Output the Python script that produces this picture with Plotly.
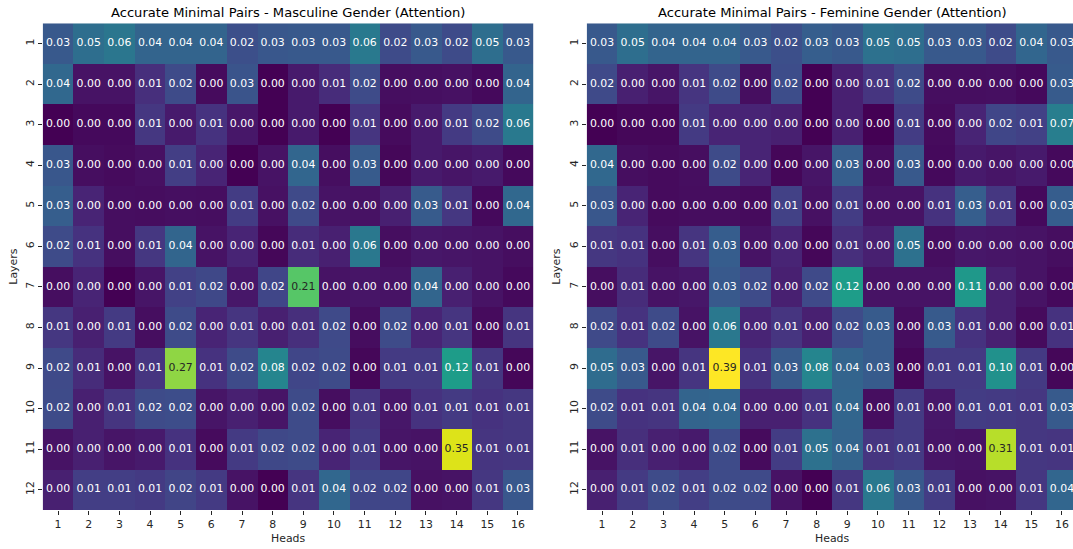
import numpy as np
import plotly.graph_objects as go

heads = list(range(1, 17))
layers = list(range(1, 13))

masculine = [
    [0.03, 0.05, 0.06, 0.04, 0.04, 0.04, 0.022, 0.028, 0.03, 0.03, 0.064, 0.02, 0.03, 0.02, 0.05, 0.03],
    [0.044, 0.001, 0.001, 0.007, 0.02, 0.0003, 0.026, 0.0, 0.002, 0.006, 0.02, 0.0005, 0.0006, 0.0008, 0.0002, 0.04],
    [0.0, 0.0002, 0.0002, 0.01, 0.002, 0.008, 0.0015, 0.0, 0.002, 0.0, 0.009, 0.0003, 0.002, 0.011, 0.02, 0.064],
    [0.028, 0.0005, 0.0003, 0.0007, 0.013, 0.004, 0.0, 0.001, 0.042, 0.0005, 0.032, 0.0001, 0.002, 0.0012, 0.002, 0.0002],
    [0.034, 0.004, 0.0005, 0.0004, 0.0006, 0.0005, 0.012, 0.0008, 0.019, 0.001, 0.0009, 0.003, 0.032, 0.01, 0.0002, 0.044],
    [0.02, 0.008, 0.0005, 0.01, 0.041, 0.001, 0.004, 0.0001, 0.006, 0.003, 0.062, 0.0005, 0.0015, 0.0012, 0.001, 0.0005],
    [0.0005, 0.004, 0.0, 0.0012, 0.014, 0.018, 0.0015, 0.017, 0.21, 0.001, 0.0012, 0.001, 0.041, 0.003, 0.001, 0.0002],
    [0.01, 0.003, 0.011, 0.0005, 0.02, 0.004, 0.009, 0.003, 0.007, 0.019, 0.0004, 0.02, 0.004, 0.009, 0.0003, 0.009],
    [0.019, 0.006, 0.001, 0.009, 0.27, 0.008, 0.02, 0.08, 0.017, 0.02, 0.0001, 0.011, 0.011, 0.118, 0.01, 0.0001],
    [0.02, 0.003, 0.009, 0.02, 0.021, 0.0012, 0.003, 0.0012, 0.02, 0.0005, 0.009, 0.0015, 0.008, 0.011, 0.008, 0.01],
    [0.001, 0.003, 0.0012, 0.002, 0.008, 0.0003, 0.011, 0.018, 0.02, 0.004, 0.011, 0.0012, 0.001, 0.35, 0.009, 0.01],
    [0.003, 0.013, 0.013, 0.011, 0.016, 0.011, 0.001, 0.0, 0.009, 0.043, 0.017, 0.017, 0.0008, 0.001, 0.01, 0.028],
]

feminine = [
    [0.03, 0.05, 0.04, 0.04, 0.04, 0.03, 0.022, 0.034, 0.03, 0.054, 0.05, 0.03, 0.03, 0.02, 0.042, 0.03],
    [0.019, 0.003, 0.0012, 0.009, 0.02, 0.0005, 0.021, 0.0, 0.003, 0.009, 0.02, 0.0005, 0.0005, 0.0006, 0.0002, 0.032],
    [0.0, 0.0001, 0.0001, 0.011, 0.004, 0.004, 0.003, 0.0, 0.003, 0.0, 0.012, 0.0003, 0.004, 0.017, 0.014, 0.07],
    [0.044, 0.0005, 0.0003, 0.0005, 0.02, 0.004, 0.0001, 0.0012, 0.034, 0.0004, 0.03, 0.0002, 0.002, 0.0012, 0.002, 0.0002],
    [0.028, 0.004, 0.0003, 0.0004, 0.0004, 0.0003, 0.014, 0.0008, 0.012, 0.001, 0.001, 0.008, 0.034, 0.01, 0.0002, 0.033],
    [0.01, 0.008, 0.0005, 0.009, 0.033, 0.001, 0.004, 0.0001, 0.007, 0.003, 0.054, 0.0005, 0.0015, 0.0012, 0.001, 0.0005],
    [0.0005, 0.006, 0.001, 0.0015, 0.03, 0.02, 0.003, 0.019, 0.12, 0.001, 0.001, 0.001, 0.11, 0.003, 0.001, 0.0002],
    [0.019, 0.008, 0.02, 0.001, 0.062, 0.004, 0.009, 0.003, 0.02, 0.032, 0.0004, 0.031, 0.008, 0.003, 0.0003, 0.008],
    [0.048, 0.03, 0.0012, 0.009, 0.39, 0.008, 0.032, 0.08, 0.04, 0.032, 0.0001, 0.011, 0.011, 0.098, 0.011, 0.0001],
    [0.02, 0.008, 0.009, 0.04, 0.042, 0.003, 0.003, 0.008, 0.041, 0.0005, 0.011, 0.0015, 0.012, 0.011, 0.01, 0.031],
    [0.001, 0.007, 0.003, 0.002, 0.02, 0.0003, 0.012, 0.054, 0.04, 0.009, 0.011, 0.0012, 0.001, 0.31, 0.01, 0.009],
    [0.003, 0.011, 0.02, 0.013, 0.02, 0.019, 0.001, 0.0, 0.01, 0.062, 0.03, 0.012, 0.0008, 0.001, 0.01, 0.042],
]

titles = [
    "Accurate Minimal Pairs - Masculine Gender (Attention)",
    "Accurate Minimal Pairs - Feminine Gender (Attention)",
]

VMAX = 0.39  # shared colour normalisation (power / sqrt scale)

VIRIDIS = ["#440154", "#471365", "#482475", "#463480", "#414487", "#3b528b", "#355f8d",
           "#2f6c8e", "#2a788e", "#25848e", "#21918c", "#1e9c89", "#22a884", "#2fb47c",
           "#44bf70", "#5ec962", "#7ad151", "#9bd93c", "#bddf26", "#dfe318", "#fde725"]
colorscale = [[i / (len(VIRIDIS) - 1), c] for i, c in enumerate(VIRIDIS)]

W, H = 1073, 549
FONT = "DejaVu Sans"
TXT = "#262626"
FS_SMALL = 10.9
FS_TITLE = 13.1

# pixel geometry
top_px, bot_px = 23.3, 510.0
left_dom = [42.7 / W, 533.3 / W]
right_dom = [586.7 / W, 1.0]
cell_w = (533.3 - 42.7) / 16
right_range_end = 0.5 + (W - 586.7) / cell_w
ydom = [1 - bot_px / H, 1 - top_px / H]

fig = go.Figure()

for k, (data, xa, ya) in enumerate([(masculine, "x", "y"), (feminine, "x2", "y2")]):
    arr = np.array(data, dtype=float)
    z = np.sqrt(arr)
    fig.add_trace(go.Heatmap(
        x=heads, y=layers, z=z, zmin=0, zmax=np.sqrt(VMAX),
        colorscale=colorscale, showscale=False, xaxis=xa, yaxis=ya,
        hoverinfo="skip",
    ))
    xs, ys, texts, colors = [], [], [], []
    for i, layer in enumerate(layers):
        for j, head in enumerate(heads):
            v = arr[i, j]
            xs.append(head)
            ys.append(layer)
            texts.append(f"{v:.2f}")
            t = np.sqrt(v / VMAX)
            colors.append(TXT if t > 0.65 else "white")
    fig.add_trace(go.Scatter(
        x=xs, y=ys, text=texts, mode="text", xaxis=xa, yaxis=ya,
        textfont=dict(family=FONT, size=FS_SMALL, color=colors),
        hoverinfo="skip", showlegend=False,
    ))

axis_common = dict(
    showgrid=False, zeroline=False, showline=False, ticks="outside",
    ticklen=3.5, tickwidth=0.8, tickcolor=TXT,
    tickfont=dict(family=FONT, size=FS_SMALL, color=TXT), automargin=False,
)

fig.update_layout(
    width=W, height=H, margin=dict(l=0, r=0, t=0, b=0),
    paper_bgcolor="white", plot_bgcolor="white", showlegend=False,
    xaxis=dict(domain=left_dom, range=[0.5, 16.5], tickvals=heads,
               ticktext=[str(h) for h in heads], anchor="y", **axis_common),
    yaxis=dict(domain=ydom, range=[12.5, 0.5], tickvals=layers,
               ticktext=[str(l) for l in layers], tickangle=-90, anchor="x", **axis_common),
    xaxis2=dict(domain=right_dom, range=[0.5, right_range_end], tickvals=heads,
                ticktext=[str(h) for h in heads], anchor="y2", **axis_common),
    yaxis2=dict(domain=ydom, range=[12.5, 0.5], tickvals=layers,
                ticktext=[str(l) for l in layers], tickangle=-90, anchor="x2", **axis_common),
)

ann = []
centers = [(42.7 + 533.3) / 2, (586.7 + 586.7 + 16 * cell_w) / 2]
label_x = [14, 557]
for k in range(2):
    ann.append(dict(text=titles[k], x=centers[k] / W, y=1 - 12 / H, xref="paper", yref="paper",
                    xanchor="center", yanchor="middle", showarrow=False,
                    font=dict(family=FONT, size=FS_TITLE, color="black")))
    ann.append(dict(text="Heads", x=centers[k] / W, y=1 - 538 / H, xref="paper", yref="paper",
                    xanchor="center", yanchor="middle", showarrow=False,
                    font=dict(family=FONT, size=FS_SMALL, color=TXT)))
    ann.append(dict(text="Layers", x=label_x[k] / W, y=1 - ((top_px + bot_px) / 2) / H,
                    xref="paper", yref="paper", xanchor="center", yanchor="middle",
                    textangle=-90, showarrow=False,
                    font=dict(family=FONT, size=FS_SMALL, color=TXT)))
fig.update_layout(annotations=ann)

fig.write_html("out.html")
